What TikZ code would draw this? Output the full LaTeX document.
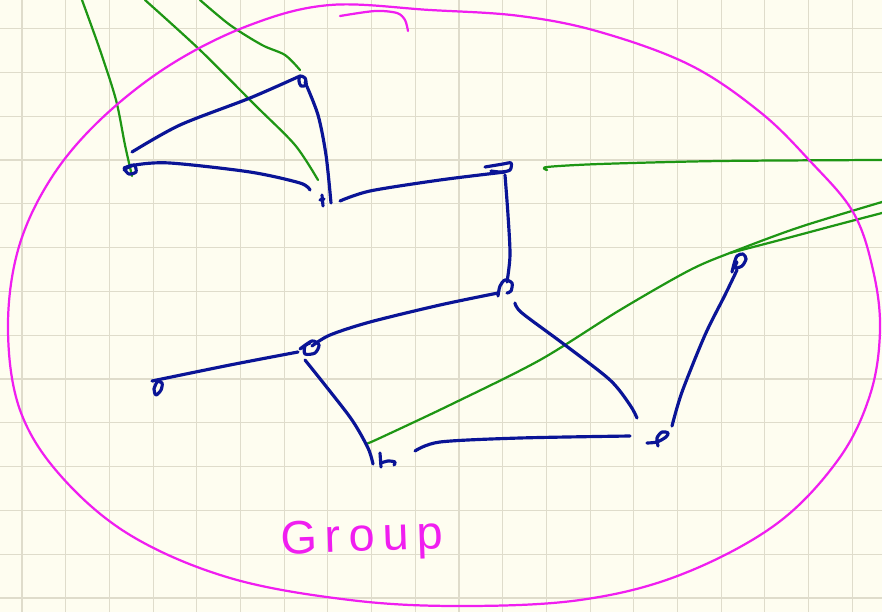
\documentclass[tikz,border=0pt]{standalone}
\usepackage{fontspec}
\setmainfont{Liberation Sans}
\usetikzlibrary{calc}
\definecolor{bg}{HTML}{FEFDF0}
\definecolor{gridc}{HTML}{DFDCCB}
\definecolor{navy}{HTML}{0A1496}
\definecolor{grn}{HTML}{1E9614}
\definecolor{mag}{HTML}{F01EF0}
\tikzset{
  bluepen/.style={navy, line width=2.7pt, line cap=round, line join=round},
  greenpen/.style={grn, line width=1.9pt, line cap=round, line join=round},
  magpen/.style={mag, line width=1.9pt, line cap=round, line join=round},
}
\begin{document}
\begin{tikzpicture}[x=0.03cm,y=-0.03cm]
\fill[bg] (0,0) rectangle (882,612);
\useasboundingbox (0,0) rectangle (882,612);
% grid
\foreach \i in {0,...,19} {\draw[gridc, line width=0.9pt] ({22+43.7*\i},0) -- ({22+43.7*\i},612);}
\foreach \j in {0,...,13} {\draw[gridc, line width=0.9pt] (0,{28.6+43.8*\j}) -- (882,{28.6+43.8*\j});}

% named points
\coordinate (A) at (128,170);
\coordinate (B) at (302,80);
\coordinate (C) at (322,200);
\coordinate (D) at (503,168);
\coordinate (E) at (505,288);
\coordinate (F) at (310,347);
\coordinate (G) at (158,390);
\coordinate (H) at (388,462);
\coordinate (I) at (660,438);
\coordinate (J) at (738,262);

% green strokes
\draw[greenpen] plot[smooth] coordinates {(82,0) (100,50) (116,100) (125,145) (132,176)};
\draw[greenpen] plot[smooth] coordinates {(145,0) (200,50) (255,105) (295,145) (318,180)};
\draw[greenpen] plot[smooth] coordinates {(200,0) (230,25) (262,45) (285,55) (300,70)};
\draw[greenpen] plot[smooth] coordinates {(547,170) (547,167) (600,164) (720,161) (882,160)};
\draw[greenpen] plot[smooth] coordinates {(366,444) (380,438) (450,405) (540,360) (620,310) (690,270) (735,251) (800,227) (882,202)};
\draw[greenpen] plot[smooth] coordinates {(730,253) (780,240) (840,224) (882,213)};

% blue edges
\draw[bluepen] plot[smooth] coordinates {(132,152) (180,125) (250,98) (300,76)};
\draw[bluepen] plot[smooth] coordinates {(124,170) (135,165) (170,163) (250,172) (300,183) (310,190)};
\draw[bluepen] plot[smooth] coordinates {(305,82) (318,115) (326,155) (331,203)};
\draw[bluepen] plot[smooth] coordinates {(340,201) (370,191) (440,180) (505,172)};
\draw[bluepen] plot[smooth] coordinates {(505,175) (508,215) (510,255) (507,282)};
\draw[bluepen] plot[smooth] coordinates {(498,293) (440,305) (370,322) (330,335) (312,346)};
\draw[bluepen] plot[smooth] coordinates {(298,352) (230,365) (152,381)};
\draw[bluepen] plot[smooth] coordinates {(305,360) (325,385) (352,420) (368,448) (373,464)};
\draw[bluepen] plot[smooth] coordinates {(415,451) (440,442) (520,438) (630,436)};
\draw[bluepen] plot[smooth] coordinates {(515,303) (522,313) (565,345) (610,380) (630,405) (637,418)};
\draw[bluepen] plot[smooth] coordinates {(672,426) (682,392) (705,335) (725,295) (737,270)};

% node squiggles
\draw[bluepen] plot[smooth] coordinates {($(A)+(-4,-2)$) ($(A)+(6,-5)$) ($(A)+(8,2)$) ($(A)+(1,4)$) ($(A)+(-3,0)$)};
\draw[bluepen] plot[smooth cycle] coordinates {($(B)+(-2,-4)$) ($(B)+(3,-2)$) ($(B)+(4,5)$) ($(B)+(-1,6)$) ($(B)+(-3,1)$)};
\draw[bluepen] ($(C)+(0,-5)$) -- ($(C)+(1,6)$);
\draw[bluepen] ($(C)+(-2,0)$) -- ($(C)+(2,-1)$);
\draw[bluepen] plot[smooth] coordinates {($(D)+(-18,-1)$) ($(D)+(0,-4)$) ($(D)+(8,-5)$) ($(D)+(7,2)$) ($(D)+(-2,4)$) ($(D)+(-12,3)$)};
\draw[bluepen] plot[smooth] coordinates {($(E)+(-7,8)$) ($(E)+(-5,-2)$) ($(E)+(0,-8)$) ($(E)+(7,-5)$) ($(E)+(6,3)$) ($(E)+(2,5)$)};
\draw[bluepen] plot[smooth] coordinates {($(F)+(-10,2)$) ($(F)+(2,-6)$) ($(F)+(9,-2)$) ($(F)+(5,6)$) ($(F)+(-5,7)$) ($(F)+(-5,-1)$) ($(F)+(0,-4)$)};
\draw[bluepen] plot[smooth] coordinates {($(G)+(-2,-9)$) ($(G)+(4,-7)$) ($(G)+(3,0)$) ($(G)+(-2,5)$) ($(G)+(-4,-1)$) ($(G)+(-1,-8)$)};
\draw[bluepen] plot[smooth] coordinates {($(H)+(-8,-9)$) ($(H)+(-7,5)$)};
\draw[bluepen] plot[smooth] coordinates {($(H)+(-7,1)$) ($(H)+(0,-1)$) ($(H)+(7,0)$) ($(H)+(6,3)$)};
\draw[bluepen] plot[smooth] coordinates {($(I)+(-13,5)$) ($(I)+(-3,4)$) ($(I)+(6,-1)$) ($(I)+(8,-5)$) ($(I)+(2,-6)$) ($(I)+(-3,0)$) ($(I)+(-2,8)$)};
\draw[bluepen] plot[smooth] coordinates {($(J)+(-6,10)$) ($(J)+(-4,2)$) ($(J)+(-1,-6)$) ($(J)+(5,-8)$) ($(J)+(8,-3)$) ($(J)+(4,4)$) ($(J)+(-3,6)$) ($(J)+(-1,0)$)};

% magenta group outline
\draw[magpen] plot[smooth cycle, tension=0.6] coordinates {(430,10) (520,16) (600,32) (690,65) (760,112) (810,161) (853,212) (873,270) (880,330) (870,395) (838,460) (775,525) (680,575) (580,600) (460,606) (350,600) (230,578) (130,535) (60,475) (20,410) (8,330) (18,250) (50,180) (100,120) (170,65) (250,25) (330,5)};
\draw[magpen] plot[smooth] coordinates {(340,16) (375,11) (397,13) (405,20) (408,31)};
\node[mag, font=\fontsize{40}{40}\selectfont, rotate=2] (group) at (362,540) {G\,r\,o\,u\,p};
\end{tikzpicture}
\end{document}
